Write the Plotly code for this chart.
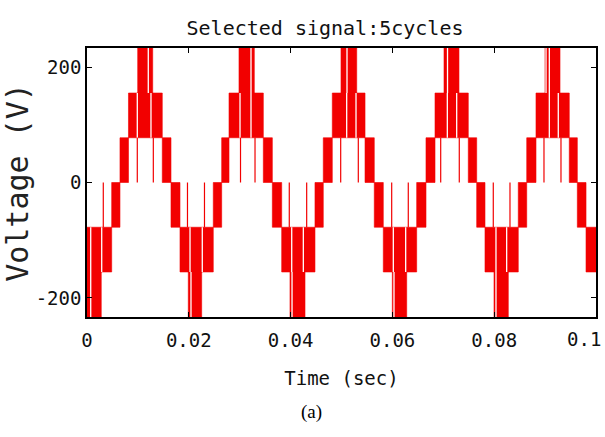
import plotly.graph_objects as go

# ---------------- data ----------------
# inverter output levels (V)
LEVELS_V = [0, 77.5, 155, 233]

# PWM-filled step blocks: start/end time (ms) and band index
# band +k : between +LEVELS_V[k-1] and +LEVELS_V[k]; band -k : mirror
block_start_ms = [0.00, 0.00, 4.85, 6.48, 8.15, 9.96, 14.79, 16.50, 18.27, 19.90,
                  24.81, 26.46, 27.90, 29.86, 34.64, 36.41, 38.25, 39.88, 44.79, 46.42,
                  48.19, 49.90, 54.62, 56.44, 58.21, 59.98, 64.77, 66.60, 68.37, 70.14,
                  74.91, 76.56, 78.19, 79.96, 84.73, 86.39, 88.21, 89.98, 94.75, 96.33,
                  98.04]
block_end_ms = [2.80, 4.85, 6.48, 8.15, 14.79, 12.91, 16.50, 18.27, 24.81, 22.53,
                26.46, 27.90, 34.64, 32.87, 36.41, 38.25, 44.79, 42.83, 46.42, 48.19,
                54.62, 52.99, 56.44, 58.21, 64.77, 62.81, 66.60, 68.37, 74.91, 73.08,
                76.56, 78.19, 84.73, 82.77, 86.39, 88.21, 94.75, 92.93, 96.33, 98.04,
                100.00]
block_band = [-3, -2, -1, 1, 2, 3, 1, -1, -2, -3,
              -1, 1, 2, 3, 1, -1, -2, -3, -1, 1,
              2, 3, 1, -1, -2, -3, -1, 1, 2, 3,
              1, -1, -2, -3, -1, 1, 2, 3, 1, -1,
              -2]

# thin white gaps inside the filled blocks (ms, band)
gap_ms = [0.73, 0.73, 2.89, 9.88, 12.04, 12.57, 20.24, 20.43, 22.65, 30.06,
          32.22, 32.22, 40.22, 40.28, 42.50, 51.02, 51.08, 52.85, 60.18, 60.31,
          62.61, 70.79, 70.83, 72.63, 80.35, 80.35, 82.45, 90.18, 90.83, 90.83,
          92.59]
gap_band = [-2, -3, -2, 2, 3, 2, -2, -3, -2, 2,
            2, 3, -2, -3, -2, 2, 3, 2, -2, -3,
            -2, 2, 3, 2, -2, -3, -2, 3, 3, 2,
            2]

# thin red switching spikes in the blank areas (ms, band)
spike_ms = [3.20, 9.88, 13.03, 19.74, 23.08, 30.16, 33.01, 39.74, 43.16, 49.84,
            53.30, 59.86, 63.12, 69.49, 73.14, 79.82, 83.10, 89.78, 93.12]
spike_band = [-1, 1, 1, -1, -1, 1, 1, -1, -1, 1,
              1, -1, -1, 1, 1, -1, -1, 1, 1]

x_tick_vals = [0, 0.02, 0.04, 0.06, 0.08, 0.1]
x_tick_text = ["0", "0.02", "0.04", "0.06", "0.08", "0.1"]
y_tick_vals = [-200, 0, 200]
y_tick_text = ["-200", "0", "200"]

TITLE = "Selected signal:5cycles"
X_TITLE = "Time (sec)"
Y_TITLE = "Voltage (V)"
CAPTION = "(a)"


def band_limits(b):
    k = abs(b)
    if b > 0:
        return LEVELS_V[k - 1], LEVELS_V[k]
    return -LEVELS_V[k], -LEVELS_V[k - 1]


# ---------------- build traces ----------------
bx, by = [], []
for t0, t1, b in zip(block_start_ms, block_end_ms, block_band):
    lo, hi = band_limits(b)
    t0s, t1s = t0 / 1000.0, t1 / 1000.0
    bx += [t0s, t1s, t1s, t0s, t0s, None]
    by += [lo, lo, hi, hi, lo, None]

gx, gy = [], []
for t, b in zip(gap_ms, gap_band):
    lo, hi = band_limits(b)
    gx += [t / 1000.0, t / 1000.0, None]
    gy += [lo, hi, None]

sx, sy = [], []
for t, b in zip(spike_ms, spike_band):
    lo, hi = band_limits(b)
    sx += [t / 1000.0, t / 1000.0, None]
    sy += [lo, hi, None]

RED = "#f20000"
MONO = "DejaVu Sans Mono"
TXT = "#111"

fig = go.Figure()
fig.add_trace(go.Scatter(x=bx, y=by, mode="lines", fill="toself",
                         fillcolor=RED, line=dict(color=RED, width=0.6),
                         hoverinfo="skip", showlegend=False))
fig.add_trace(go.Scatter(x=gx, y=gy, mode="lines",
                         line=dict(color="white", width=1.3),
                         hoverinfo="skip", showlegend=False))
fig.add_trace(go.Scatter(x=sx, y=sy, mode="lines",
                         line=dict(color=RED, width=1.2),
                         hoverinfo="skip", showlegend=False))

# the last x tick label sits against the right edge in the reference,
# so it is drawn as an annotation nudged left to stay inside the page
axis_tick_text = x_tick_text[:-1] + [""]
annotations = [
    dict(text=x_tick_text[-1], xref="x", yref="paper",
         x=x_tick_vals[-1], y=0, xanchor="right", yanchor="top",
         xshift=7, yshift=-9, showarrow=False,
         font=dict(family=MONO, size=19, color=TXT)),
    dict(text=CAPTION, xref="paper", yref="paper",
         x=0.442, y=-0.353, xanchor="center", yanchor="middle",
         showarrow=False,
         font=dict(family="Liberation Serif", size=19, color="black")),
]

fig.update_layout(
    width=605, height=437,
    margin=dict(l=87, r=9, t=48, b=120, autoexpand=False),
    paper_bgcolor="white", plot_bgcolor="white",
    showlegend=False,
    title=dict(text=TITLE, x=0.4676, xref="paper", xanchor="center",
               y=1 - 28 / 437, yref="container", yanchor="middle",
               font=dict(family=MONO, size=20, color=TXT)),
    annotations=annotations,
)

fig.update_xaxes(range=[0, 0.1], tickvals=x_tick_vals, ticktext=axis_tick_text,
                 showgrid=False, zeroline=False, ticklabelstandoff=5,
                 showline=True, linecolor="black", linewidth=1.5, mirror="ticks",
                 ticks="inside", ticklen=5, tickcolor="black", tickwidth=1.2,
                 tickfont=dict(family=MONO, size=19, color=TXT),
                 title=dict(text=X_TITLE, standoff=22,
                            font=dict(family=MONO, size=19, color=TXT)))
fig.update_yaxes(range=[-233, 233], tickvals=y_tick_vals, ticktext=y_tick_text,
                 showgrid=False, zeroline=False,
                 showline=True, linecolor="black", linewidth=1.5, mirror="ticks",
                 ticks="inside", ticklen=5, tickcolor="black", tickwidth=1.2,
                 tickfont=dict(family=MONO, size=19, color=TXT),
                 title=dict(text=Y_TITLE, standoff=6,
                            font=dict(family=MONO, size=30, color="#222")))

fig.write_html("out.html")
